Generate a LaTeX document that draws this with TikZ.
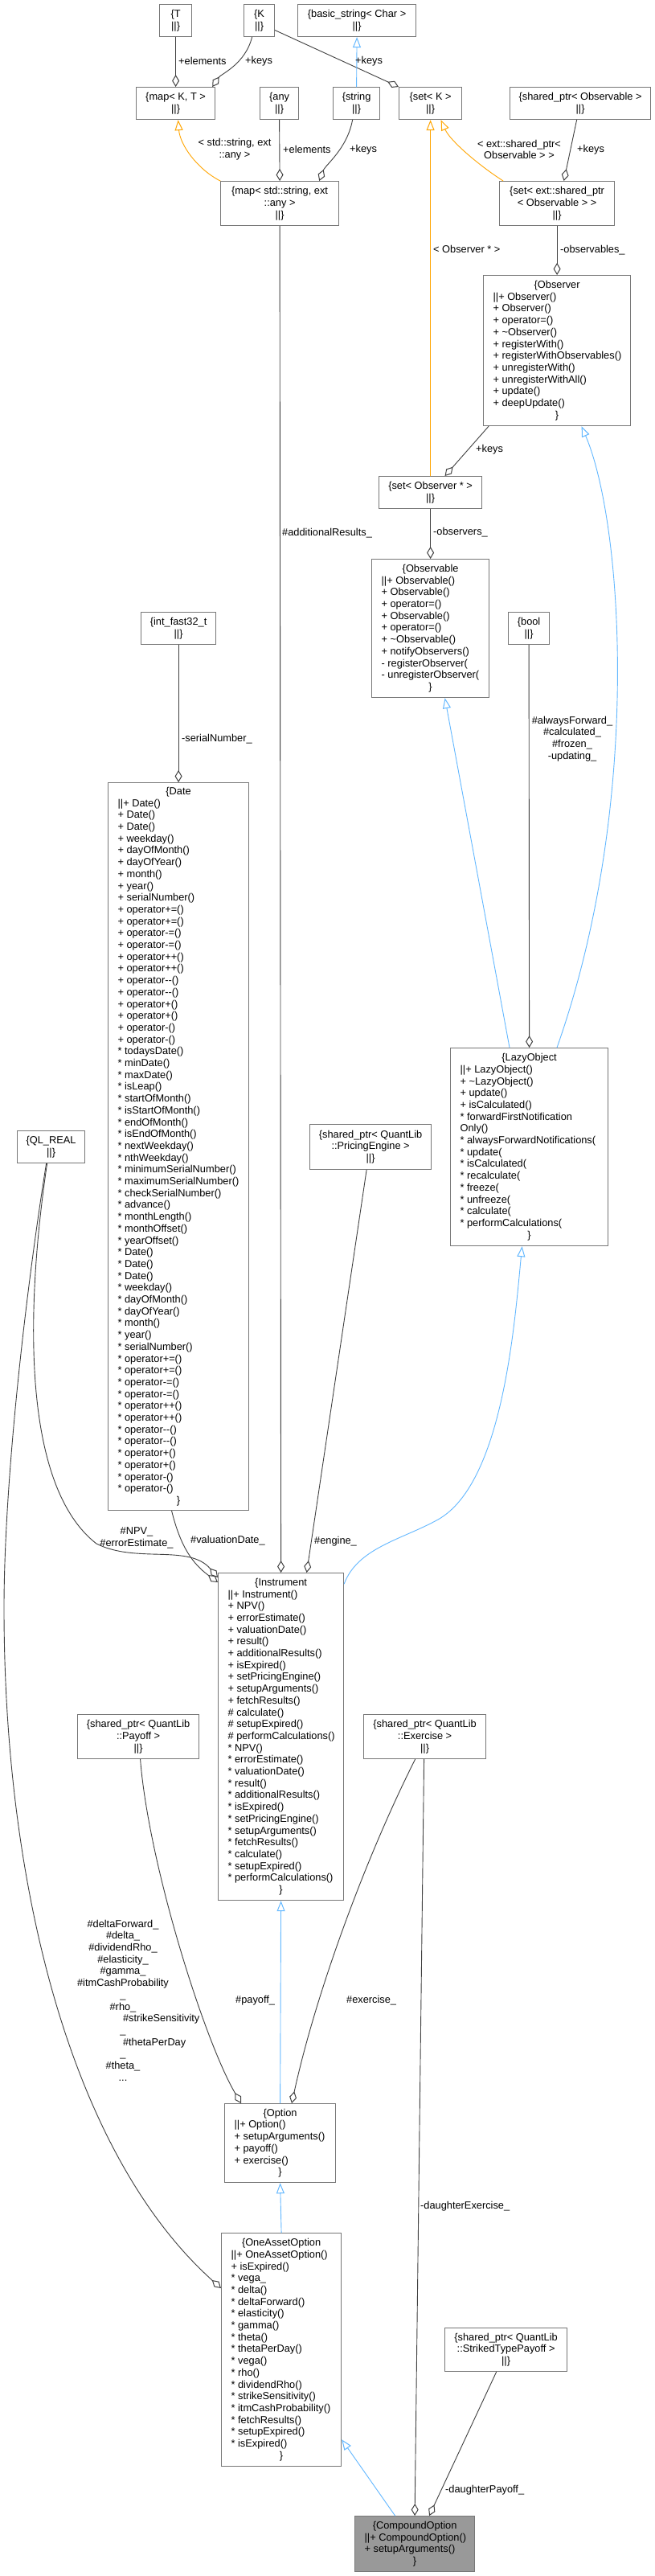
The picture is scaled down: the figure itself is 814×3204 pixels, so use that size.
\documentclass[tikz,border=0pt]{standalone}
\usepackage{fontspec}
\setmainfont{Liberation Sans}
\usetikzlibrary{arrows.meta}
\definecolor{boxgray}{HTML}{777777}
\definecolor{edgegray}{HTML}{404040}
\definecolor{inhblue}{HTML}{63B8FF}
\definecolor{tplorange}{HTML}{FFA500}
\definecolor{mainfill}{HTML}{999999}
\newcommand{\dxfont}{\fontsize{12.8}{14.7}\selectfont}
% class record: width of text, title, member lines
\newcommand{\clsbody}[3]{\parbox{#1}{\centering\{#2\par
  \raggedright\begin{tabular}[t]{@{}l@{}}#3\end{tabular}\par
  \centering\}}}
\newlength{\greekw}
\tikzset{
  cls/.style={draw=boxgray, line width=1.2pt, fill=white, anchor=north west, inner sep=0pt, font=\dxfont},
  simple/.style={cls, align=center},
  lbl/.style={font=\dxfont, inner sep=0pt, align=center},
  member/.style={draw=edgegray, line width=0.9pt, -{Diamond[open,length=15pt,width=9pt,line width=1pt]}},
  inherit/.style={draw=inhblue, line width=0.9pt, -{Triangle[open,length=13pt,width=10pt,line width=1pt]}},
  tmpl/.style={draw=tplorange, line width=0.9pt, -{Triangle[open,length=13pt,width=10pt,line width=1pt]}}
}
\begin{document}
\begin{tikzpicture}[x=1pt,y=-1pt,line cap=round,>=latex]
  \path[fill=white,use as bounding box] (0,0) rectangle (814,3204);
  \settowidth{\greekw}{\dxfont\#itmCashProbability}

  % templates and small types
  \node[simple, minimum width=40pt, minimum height=40pt] (T) at (198,5) {\{T\\||\}};
  \node[simple, minimum width=38pt, minimum height=40pt] (K) at (303,5) {\{K\\||\}};
  \node[simple, minimum width=147pt, minimum height=40pt] (basicStr) at (370,5) {\{basic\_string< Char >\\||\}};
  \node[simple, minimum width=98pt, minimum height=40pt] (mapKT) at (169,108) {\{map< K, T >\\||\}};
  \node[simple, minimum width=48pt, minimum height=40pt] (any) at (323,108) {\{any\\||\}};
  \node[simple, minimum width=58pt, minimum height=40pt] (strType) at (414,108) {\{string\\||\}};
  \node[simple, minimum width=78pt, minimum height=40pt] (setK) at (496,108) {\{set< K >\\||\}};
  \node[simple, minimum width=175pt, minimum height=40pt] (sharedObs) at (634,108) {\{shared\_ptr< Observable >\\||\}};
  \node[simple, minimum width=147pt, minimum height=55pt] (mapAny) at (274,225) {\{map< std::string, ext\\::any >\\||\}};
  \node[simple, minimum width=143pt, minimum height=55pt] (setShared) at (621,225) {\{set< ext::shared\_ptr\\< Observable > >\\||\}};
  \node[simple, minimum width=128pt, minimum height=40pt] (setObsPtr) at (471,592) {\{set< Observer * >\\||\}};
  \node[simple, minimum width=93pt, minimum height=40pt] (intFast) at (175,761) {\{int\_fast32\_t\\||\}};
  \node[simple, minimum width=51pt, minimum height=40pt] (bool) at (632,761) {\{bool\\||\}};
  \node[simple, minimum width=84pt, minimum height=40pt] (qlReal) at (21,1406) {\{QL\_REAL\\||\}};
  \node[simple, minimum width=151pt, minimum height=56pt] (engine) at (385,1398) {\{shared\_ptr< QuantLib\\::PricingEngine >\\||\}};
  \node[simple, minimum width=151pt, minimum height=55pt] (payoff) at (96,2132) {\{shared\_ptr< QuantLib\\::Payoff >\\||\}};
  \node[simple, minimum width=152pt, minimum height=55pt] (exercise) at (452,2132) {\{shared\_ptr< QuantLib\\::Exercise >\\||\}};
  \node[simple, minimum width=152pt, minimum height=54pt] (strikedPayoff) at (553,2895) {\{shared\_ptr< QuantLib\\::StrikedTypePayoff >\\||\}};

  % classes with members
  \node[cls, minimum width=183pt, minimum height=187pt] (observer) at (601,342) {\clsbody{159pt}{Observer}{||+ Observer()\\+ Observer()\\+ operator=()\\+ \textasciitilde Observer()\\+ registerWith()\\+ registerWithObservables()\\+ unregisterWith()\\+ unregisterWithAll()\\+ update()\\+ deepUpdate()}};
  \node[cls, minimum width=146pt, minimum height=172pt] (observable) at (462,695) {\clsbody{122pt}{Observable}{||+ Observable()\\+ Observable()\\+ operator=()\\+ Observable()\\+ operator=()\\+ \textasciitilde Observable()\\+ notifyObservers()\\- registerObserver(\\- unregisterObserver(}};
  \node[cls, minimum width=175pt, minimum height=905pt] (date) at (134,973) {\clsbody{151pt}{Date}{||+ Date()\\+ Date()\\+ Date()\\+ weekday()\\+ dayOfMonth()\\+ dayOfYear()\\+ month()\\+ year()\\+ serialNumber()\\+ operator+=()\\+ operator+=()\\+ operator-=()\\+ operator-=()\\+ operator++()\\+ operator++()\\+ operator-{}-()\\+ operator-{}-()\\+ operator+()\\+ operator+()\\+ operator-()\\+ operator-()\\{}* todaysDate()\\{}* minDate()\\{}* maxDate()\\{}* isLeap()\\{}* startOfMonth()\\{}* isStartOfMonth()\\{}* endOfMonth()\\{}* isEndOfMonth()\\{}* nextWeekday()\\{}* nthWeekday()\\{}* minimumSerialNumber()\\{}* maximumSerialNumber()\\{}* checkSerialNumber()\\{}* advance()\\{}* monthLength()\\{}* monthOffset()\\{}* yearOffset()\\{}* Date()\\{}* Date()\\{}* Date()\\{}* weekday()\\{}* dayOfMonth()\\{}* dayOfYear()\\{}* month()\\{}* year()\\{}* serialNumber()\\{}* operator+=()\\{}* operator+=()\\{}* operator-=()\\{}* operator-=()\\{}* operator++()\\{}* operator++()\\{}* operator-{}-()\\{}* operator-{}-()\\{}* operator+()\\{}* operator+()\\{}* operator-()\\{}* operator-()}};
  \node[cls, minimum width=196pt, minimum height=246pt] (lazy) at (560,1303) {\clsbody{172pt}{LazyObject}{||+ LazyObject()\\+ \textasciitilde LazyObject()\\+ update()\\+ isCalculated()\\{}* forwardFirstNotification\\Only()\\{}* alwaysForwardNotifications(\\{}* update(\\{}* isCalculated(\\{}* recalculate(\\{}* freeze(\\{}* unfreeze(\\{}* calculate(\\{}* performCalculations(}};
  \node[cls, minimum width=156pt, minimum height=407pt] (instrument) at (271,1956) {\clsbody{132pt}{Instrument}{||+ Instrument()\\+ NPV()\\+ errorEstimate()\\+ valuationDate()\\+ result()\\+ additionalResults()\\+ isExpired()\\+ setPricingEngine()\\+ setupArguments()\\+ fetchResults()\\\# calculate()\\\# setupExpired()\\\# performCalculations()\\{}* NPV()\\{}* errorEstimate()\\{}* valuationDate()\\{}* result()\\{}* additionalResults()\\{}* isExpired()\\{}* setPricingEngine()\\{}* setupArguments()\\{}* fetchResults()\\{}* calculate()\\{}* setupExpired()\\{}* performCalculations()}};
  \node[cls, minimum width=138pt, minimum height=98pt] (option) at (279,2616) {\clsbody{114pt}{Option}{||+ Option()\\+ setupArguments()\\+ payoff()\\+ exercise()}};
  \node[cls, minimum width=149pt, minimum height=290pt] (oneAsset) at (275,2777) {\clsbody{125pt}{OneAssetOption}{||+ OneAssetOption()\\+ isExpired()\\{}* vega\_\\{}* delta()\\{}* deltaForward()\\{}* elasticity()\\{}* gamma()\\{}* theta()\\{}* thetaPerDay()\\{}* vega()\\{}* rho()\\{}* dividendRho()\\{}* strikeSensitivity()\\{}* itmCashProbability()\\{}* fetchResults()\\{}* setupExpired()\\{}* isExpired()}};
  \node[cls, fill=mainfill, minimum width=149pt, minimum height=69pt] (compound) at (441,3129) {\clsbody{125pt}{CompoundOption}{||+ CompoundOption()\\+ setupArguments()}};

  % connectors
  \draw[member] (T.south) -- (mapKT.north);
  \draw[member] ([xshift=-9pt]K.south) .. controls (305,80) and (275,92) .. ([xshift=-4pt]mapKT.north east);
  \draw[member] ([yshift=-12pt]K.east) -- (setK.north west);
  \draw[inherit] (strType.north) -- (basicStr.south);
  \draw[member] (any.south) -- (mapAny.north);
  \draw[member] ([xshift=-5pt]strType.south) .. controls (432,185) and (405,205) .. ([xshift=-25pt]mapAny.north east);
  \draw[tmpl] (mapAny.north west) .. controls (245,210) and (224,180) .. ([xshift=3pt]mapKT.south);
  \draw[tmpl] (setObsPtr.north) -- (setK.south);
  \draw[tmpl] ([xshift=5pt]setShared.north west) .. controls (595,205) and (560,175) .. ([xshift=13pt]setK.south);
  \draw[member] ([xshift=-4.5pt]sharedObs.south) -- ([xshift=8.5pt]setShared.north);
  \draw[member] (setShared.south) -- (observer.north);
  \draw[member] ([xshift=7pt]observer.south west) -- ([xshift=18pt]setObsPtr.north);
  \draw[member] (setObsPtr.south) -- (observable.north);
  \draw[inherit] ([xshift=74pt]lazy.north west) -- ([xshift=18pt]observable.south);
  \draw[inherit] ([xshift=133pt]lazy.north west) .. controls (800,1000) and (775,650) .. ([xshift=30.5pt]observer.south);
  \draw[member] (bool.south) -- (lazy.north);
  \draw[member] (intFast.south) -- (date.north);
  \draw[inherit] ([yshift=-14pt]instrument.north east) .. controls (445,1925) and (500,1915) .. (545,1890)
    .. controls (625,1845) and (640,1650) .. ([xshift=-9pt]lazy.south);
  \draw[member] ([xshift=-8.5pt]date.south) .. controls (225,1925) and (240,1945) .. ([yshift=-12pt]instrument.north west);
  \draw[member] ([xshift=-5pt]qlReal.south) .. controls (30,1640) and (30,1850) .. (120,1920)
    .. controls (170,1945) and (235,1920) .. ([yshift=-6pt]instrument.north west);
  \draw[member] ([xshift=-6pt]qlReal.south) .. controls (30,1620) and (5,1850) .. (5,2000)
    .. controls (5,2350) and (90,2680) .. ([yshift=-69pt]oneAsset.north west);
  \draw[member] ([xshift=-5pt]engine.south) -- ([xshift=32pt]instrument.north);
  \draw[member] (mapAny.south) -- (instrument.north);
  \draw[inherit] (option.north) -- (instrument.south);
  \draw[member] ([xshift=2.5pt]payoff.south) .. controls (185,2320) and (255,2540) .. ([xshift=21pt]option.north west);
  \draw[member] ([xshift=-12pt]exercise.south) .. controls (460,2300) and (395,2470) .. ([xshift=84pt]option.north west);
  \draw[inherit] (oneAsset.north) -- (option.south);
  \draw[inherit] ([xshift=-24.5pt]compound.north) -- ([yshift=34pt]oneAsset.south east);
  \draw[member] ([xshift=-1pt]exercise.south) -- (compound.north);
  \draw[member] ([xshift=-12pt]strikedPayoff.south) -- ([xshift=18pt]compound.north);

  % connector labels
  \node[lbl, anchor=west] (lElemT) at (222,76) {+elements};
  \node[lbl, anchor=west] (lKeysK) at (305,76) {+keys};
  \node[lbl, anchor=west] (lKeysSet) at (442,76) {+keys};
  \node[lbl, anchor=west] (lElemAny) at (352,186) {+elements};
  \node[lbl, anchor=west] (lKeysStr) at (435,186) {+keys};
  \node[lbl] (lTplMap) at (292,186) {< std::string, ext\\::any >};
  \node[lbl, anchor=west] (lTplObs) at (539,310) {< Observer * >};
  \node[lbl] (lTplShared) at (646,186) {< ext::shared\_ptr<\\Observable > >};
  \node[lbl, anchor=west] (lKeysShared) at (718,186) {+keys};
  \node[lbl, anchor=west] (lObservables) at (697,311) {-observables\_};
  \node[lbl, anchor=west] (lKeysObs) at (592,559) {+keys};
  \node[lbl, anchor=west] (lObservers) at (539,662) {-observers\_};
  \node[lbl] (lLazyFlags) at (712,919) {\#alwaysForward\_\\\#calculated\_\\\#frozen\_\\-updating\_};
  \node[lbl, anchor=west] (lSerial) at (226,919) {-serialNumber\_};
  \node[lbl, anchor=west] (lAddRes) at (351,663) {\#additionalResults\_};
  \node[lbl] (lNpv) at (170,1913) {\#NPV\_\\\#errorEstimate\_};
  \node[lbl, anchor=west] (lValDate) at (237,1916) {\#valuationDate\_};
  \node[lbl, anchor=west] (lEngine) at (391,1917) {\#engine\_};
  \node[lbl, anchor=west] (lPayoff) at (293,2488) {\#payoff\_};
  \node[lbl, anchor=west] (lExercise) at (431,2488) {\#exercise\_};
  \node[lbl] (lGreeks) at (153,2488) {\#deltaForward\_\\\#delta\_\\\#dividendRho\_\\\#elasticity\_\\\#gamma\_\\\#itmCashProbability\\\_\\\#rho\_\\\makebox[\greekw][l]{\#strikeSensitivity}\\\_\\\makebox[\greekw][l]{\#thetaPerDay}\\\_\\\#theta\_\\...};
  \node[lbl, anchor=west] (lDExercise) at (523,2744) {-daughterExercise\_};
  \node[lbl, anchor=west] (lDPayoff) at (554,3097) {-daughterPayoff\_};
\end{tikzpicture}
\end{document}
